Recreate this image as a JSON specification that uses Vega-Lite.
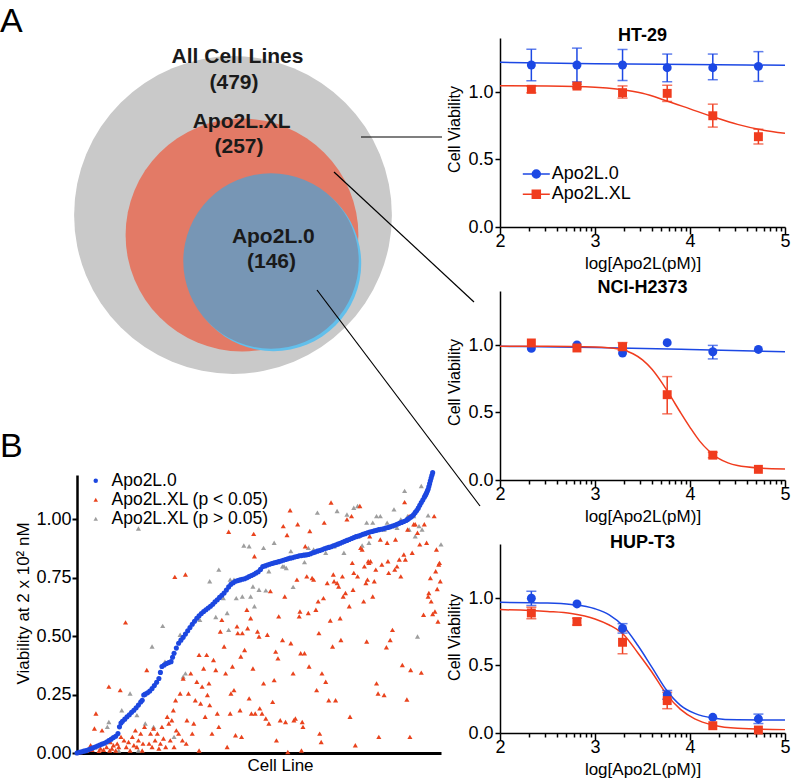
{
"$schema": "https://vega.github.io/schema/vega-lite/v6.json",
"autosize": {"type": "none"},
"padding": {"left": 77, "top": 38, "right": 716, "bottom": 742},
"background": "white",
"config": {
  "font": "Liberation Sans",
  "view": {"stroke": null},
  "axis": {"domainColor": "black", "tickColor": "black", "labelColor": "black", "titleColor": "black", "grid": false, "titleFontWeight": "normal", "labelFont": "Liberation Sans", "titleFont": "Liberation Sans"},
  "legend": {"labelFont": "Liberation Sans", "labelColor": "black", "labelLimit": 0},
  "title": {"font": "Liberation Sans", "color": "black"}
},
"datasets": {
  "venn": [
    {"c": "all", "n": 479, "x": 156, "y": 177},
    {"c": "xl", "n": 257, "x": 165, "y": 197},
    {"c": "o2", "n": 146, "x": 196.5, "y": 225.5},
    {"c": "o", "n": 146, "x": 194, "y": 223}
  ],
  "vlab": [
    {"t": "All Cell Lines", "x": 160.5, "y": 18.5},
    {"t": "(479)", "x": 157, "y": 45},
    {"t": "Apo2L.XL", "x": 164.7, "y": 83.5},
    {"t": "(257)", "x": 162, "y": 109},
    {"t": "Apo2L.0", "x": 196.3, "y": 199},
    {"t": "(146)", "x": 194.5, "y": 224}
  ],
  "conn": [
    {"x": 284, "y": 99, "x2": 365, "y2": 99},
    {"x": 257, "y": 134, "x2": 397, "y2": 264},
    {"x": 240, "y": 252, "x2": 403, "y2": 468}
  ],
  "dr": [
    {"k":"f","cl":"HT-29","s":"Apo2L.0","x":2,"y":1.22},
    {"k":"f","cl":"HT-29","s":"Apo2L.0","x":3,"y":1.21},
    {"k":"f","cl":"HT-29","s":"Apo2L.0","x":4,"y":1.203},
    {"k":"f","cl":"HT-29","s":"Apo2L.0","x":5,"y":1.198},
    {"k":"f","cl":"HT-29","s":"Apo2L.XL","x":2,"y":1.047},
    {"k":"f","cl":"HT-29","s":"Apo2L.XL","x":2.5,"y":1.045},
    {"k":"f","cl":"HT-29","s":"Apo2L.XL","x":3,"y":1.036},
    {"k":"f","cl":"HT-29","s":"Apo2L.XL","x":3.25,"y":1.02},
    {"k":"f","cl":"HT-29","s":"Apo2L.XL","x":3.5,"y":0.99},
    {"k":"f","cl":"HT-29","s":"Apo2L.XL","x":3.75,"y":0.935},
    {"k":"f","cl":"HT-29","s":"Apo2L.XL","x":4,"y":0.875},
    {"k":"f","cl":"HT-29","s":"Apo2L.XL","x":4.25,"y":0.815},
    {"k":"f","cl":"HT-29","s":"Apo2L.XL","x":4.5,"y":0.76},
    {"k":"f","cl":"HT-29","s":"Apo2L.XL","x":4.75,"y":0.72},
    {"k":"f","cl":"HT-29","s":"Apo2L.XL","x":5,"y":0.694},
    {"k":"p","cl":"HT-29","s":"Apo2L.0","x":2.33,"y":1.2,"lo":1.084,"hi":1.316},
    {"k":"p","cl":"HT-29","s":"Apo2L.0","x":2.81,"y":1.2,"lo":1.075,"hi":1.325},
    {"k":"p","cl":"HT-29","s":"Apo2L.0","x":3.29,"y":1.2,"lo":1.085,"hi":1.315},
    {"k":"p","cl":"HT-29","s":"Apo2L.0","x":3.76,"y":1.18,"lo":1.076,"hi":1.281},
    {"k":"p","cl":"HT-29","s":"Apo2L.0","x":4.24,"y":1.18,"lo":1.091,"hi":1.281},
    {"k":"p","cl":"HT-29","s":"Apo2L.0","x":4.72,"y":1.19,"lo":1.079,"hi":1.299},
    {"k":"p","cl":"HT-29","s":"Apo2L.XL","x":2.33,"y":1.02,"lo":0.995,"hi":1.045},
    {"k":"p","cl":"HT-29","s":"Apo2L.XL","x":2.81,"y":1.044,"lo":1.03,"hi":1.058},
    {"k":"p","cl":"HT-29","s":"Apo2L.XL","x":3.29,"y":0.995,"lo":0.955,"hi":1.045},
    {"k":"p","cl":"HT-29","s":"Apo2L.XL","x":3.76,"y":0.99,"lo":0.93,"hi":1.05},
    {"k":"p","cl":"HT-29","s":"Apo2L.XL","x":4.24,"y":0.824,"lo":0.74,"hi":0.91},
    {"k":"p","cl":"HT-29","s":"Apo2L.XL","x":4.72,"y":0.669,"lo":0.615,"hi":0.724},
    {"k":"f","cl":"NCI-H2373","s":"Apo2L.0","x":2,"y":0.99},
    {"k":"f","cl":"NCI-H2373","s":"Apo2L.0","x":3,"y":0.982},
    {"k":"f","cl":"NCI-H2373","s":"Apo2L.0","x":4,"y":0.967},
    {"k":"f","cl":"NCI-H2373","s":"Apo2L.0","x":5,"y":0.95},
    {"k":"f","cl":"NCI-H2373","s":"Apo2L.XL","x":2,"y":0.99},
    {"k":"f","cl":"NCI-H2373","s":"Apo2L.XL","x":2.5,"y":0.99},
    {"k":"f","cl":"NCI-H2373","s":"Apo2L.XL","x":3,"y":0.985},
    {"k":"f","cl":"NCI-H2373","s":"Apo2L.XL","x":3.25,"y":0.97},
    {"k":"f","cl":"NCI-H2373","s":"Apo2L.XL","x":3.4,"y":0.935},
    {"k":"f","cl":"NCI-H2373","s":"Apo2L.XL","x":3.5,"y":0.89},
    {"k":"f","cl":"NCI-H2373","s":"Apo2L.XL","x":3.6,"y":0.82},
    {"k":"f","cl":"NCI-H2373","s":"Apo2L.XL","x":3.7,"y":0.725},
    {"k":"f","cl":"NCI-H2373","s":"Apo2L.XL","x":3.8,"y":0.615},
    {"k":"f","cl":"NCI-H2373","s":"Apo2L.XL","x":3.9,"y":0.5},
    {"k":"f","cl":"NCI-H2373","s":"Apo2L.XL","x":4,"y":0.39},
    {"k":"f","cl":"NCI-H2373","s":"Apo2L.XL","x":4.1,"y":0.29},
    {"k":"f","cl":"NCI-H2373","s":"Apo2L.XL","x":4.2,"y":0.215},
    {"k":"f","cl":"NCI-H2373","s":"Apo2L.XL","x":4.3,"y":0.16},
    {"k":"f","cl":"NCI-H2373","s":"Apo2L.XL","x":4.4,"y":0.127},
    {"k":"f","cl":"NCI-H2373","s":"Apo2L.XL","x":4.5,"y":0.107},
    {"k":"f","cl":"NCI-H2373","s":"Apo2L.XL","x":4.75,"y":0.088},
    {"k":"f","cl":"NCI-H2373","s":"Apo2L.XL","x":5,"y":0.082},
    {"k":"p","cl":"NCI-H2373","s":"Apo2L.0","x":2.33,"y":0.975},
    {"k":"p","cl":"NCI-H2373","s":"Apo2L.0","x":2.81,"y":1.0},
    {"k":"p","cl":"NCI-H2373","s":"Apo2L.0","x":3.29,"y":0.94},
    {"k":"p","cl":"NCI-H2373","s":"Apo2L.0","x":3.76,"y":1.017},
    {"k":"p","cl":"NCI-H2373","s":"Apo2L.0","x":4.24,"y":0.95,"lo":0.897,"hi":0.997},
    {"k":"p","cl":"NCI-H2373","s":"Apo2L.0","x":4.72,"y":0.967},
    {"k":"p","cl":"NCI-H2373","s":"Apo2L.XL","x":2.33,"y":1.015},
    {"k":"p","cl":"NCI-H2373","s":"Apo2L.XL","x":2.81,"y":0.978},
    {"k":"p","cl":"NCI-H2373","s":"Apo2L.XL","x":3.29,"y":0.987,"lo":0.96,"hi":1.018},
    {"k":"p","cl":"NCI-H2373","s":"Apo2L.XL","x":3.76,"y":0.632,"lo":0.49,"hi":0.766},
    {"k":"p","cl":"NCI-H2373","s":"Apo2L.XL","x":4.24,"y":0.184,"lo":0.165,"hi":0.205},
    {"k":"p","cl":"NCI-H2373","s":"Apo2L.XL","x":4.72,"y":0.079},
    {"k":"f","cl":"HUP-T3","s":"Apo2L.0","x":2,"y":0.968},
    {"k":"f","cl":"HUP-T3","s":"Apo2L.0","x":2.5,"y":0.963},
    {"k":"f","cl":"HUP-T3","s":"Apo2L.0","x":2.75,"y":0.952},
    {"k":"f","cl":"HUP-T3","s":"Apo2L.0","x":3,"y":0.92},
    {"k":"f","cl":"HUP-T3","s":"Apo2L.0","x":3.15,"y":0.875},
    {"k":"f","cl":"HUP-T3","s":"Apo2L.0","x":3.3,"y":0.79},
    {"k":"f","cl":"HUP-T3","s":"Apo2L.0","x":3.45,"y":0.65},
    {"k":"f","cl":"HUP-T3","s":"Apo2L.0","x":3.6,"y":0.486},
    {"k":"f","cl":"HUP-T3","s":"Apo2L.0","x":3.75,"y":0.32},
    {"k":"f","cl":"HUP-T3","s":"Apo2L.0","x":3.9,"y":0.205},
    {"k":"f","cl":"HUP-T3","s":"Apo2L.0","x":4.05,"y":0.145},
    {"k":"f","cl":"HUP-T3","s":"Apo2L.0","x":4.25,"y":0.11},
    {"k":"f","cl":"HUP-T3","s":"Apo2L.0","x":4.5,"y":0.098},
    {"k":"f","cl":"HUP-T3","s":"Apo2L.0","x":5,"y":0.096},
    {"k":"f","cl":"HUP-T3","s":"Apo2L.XL","x":2,"y":0.914},
    {"k":"f","cl":"HUP-T3","s":"Apo2L.XL","x":2.5,"y":0.9},
    {"k":"f","cl":"HUP-T3","s":"Apo2L.XL","x":2.75,"y":0.885},
    {"k":"f","cl":"HUP-T3","s":"Apo2L.XL","x":3,"y":0.845},
    {"k":"f","cl":"HUP-T3","s":"Apo2L.XL","x":3.15,"y":0.8},
    {"k":"f","cl":"HUP-T3","s":"Apo2L.XL","x":3.3,"y":0.73},
    {"k":"f","cl":"HUP-T3","s":"Apo2L.XL","x":3.45,"y":0.595},
    {"k":"f","cl":"HUP-T3","s":"Apo2L.XL","x":3.6,"y":0.45},
    {"k":"f","cl":"HUP-T3","s":"Apo2L.XL","x":3.75,"y":0.29},
    {"k":"f","cl":"HUP-T3","s":"Apo2L.XL","x":3.9,"y":0.175},
    {"k":"f","cl":"HUP-T3","s":"Apo2L.XL","x":4.05,"y":0.105},
    {"k":"f","cl":"HUP-T3","s":"Apo2L.XL","x":4.25,"y":0.058},
    {"k":"f","cl":"HUP-T3","s":"Apo2L.XL","x":4.5,"y":0.035},
    {"k":"f","cl":"HUP-T3","s":"Apo2L.XL","x":5,"y":0.025},
    {"k":"p","cl":"HUP-T3","s":"Apo2L.0","x":2.33,"y":0.998,"lo":0.945,"hi":1.05},
    {"k":"p","cl":"HUP-T3","s":"Apo2L.0","x":2.81,"y":0.956},
    {"k":"p","cl":"HUP-T3","s":"Apo2L.0","x":3.29,"y":0.775,"lo":0.74,"hi":0.81},
    {"k":"p","cl":"HUP-T3","s":"Apo2L.0","x":3.76,"y":0.284,"lo":0.25,"hi":0.315},
    {"k":"p","cl":"HUP-T3","s":"Apo2L.0","x":4.24,"y":0.116},
    {"k":"p","cl":"HUP-T3","s":"Apo2L.0","x":4.72,"y":0.104,"lo":0.07,"hi":0.14},
    {"k":"p","cl":"HUP-T3","s":"Apo2L.XL","x":2.33,"y":0.889,"lo":0.847,"hi":0.931},
    {"k":"p","cl":"HUP-T3","s":"Apo2L.XL","x":2.81,"y":0.825,"lo":0.8,"hi":0.85},
    {"k":"p","cl":"HUP-T3","s":"Apo2L.XL","x":3.29,"y":0.672,"lo":0.587,"hi":0.757},
    {"k":"p","cl":"HUP-T3","s":"Apo2L.XL","x":3.76,"y":0.24,"lo":0.18,"hi":0.3},
    {"k":"p","cl":"HUP-T3","s":"Apo2L.XL","x":4.24,"y":0.054},
    {"k":"p","cl":"HUP-T3","s":"Apo2L.XL","x":4.72,"y":0.022}
  ],
  "sc": [
{"s":"g","r":17,"v":0.026},{"s":"g","r":40,"v":0.112},{"s":"g","r":42,"v":0.133},{"s":"g","r":44,"v":0.062},{"s":"g","r":55,"v":0.011},{"s":"g","r":59,"v":0.183},{"s":"g","r":70,"v":0.255},{"s":"g","r":79,"v":0.162},{"s":"g","r":81,"v":0.011},{"s":"g","r":81,"v":0.961},{"s":"g","r":90,"v":0.126},{"s":"g","r":99,"v":0.456},{"s":"g","r":101,"v":0.112},{"s":"g","r":113,"v":0.544},{"s":"g","r":116,"v":0.391},{"s":"g","r":128,"v":0.069},{"s":"g","r":136,"v":0.506},{"s":"g","r":140,"v":0.327},{"s":"g","r":143,"v":0.341},{"s":"g","r":162,"v":0.57},{"s":"g","r":175,"v":0.735},{"s":"g","r":183,"v":0.582},{"s":"g","r":187,"v":0.785},{"s":"g","r":193,"v":0.663},{"s":"g","r":198,"v":0.599},{"s":"g","r":200,"v":0.527},{"s":"g","r":202,"v":0.742},{"s":"g","r":207,"v":0.742},{"s":"g","r":210,"v":0.663},{"s":"g","r":218,"v":0.67},{"s":"g","r":220,"v":0.888},{"s":"g","r":227,"v":0.885},{"s":"g","r":229,"v":0.67},{"s":"g","r":232,"v":0.713},{"s":"g","r":234,"v":0.628},{"s":"g","r":240,"v":0.699},{"s":"g","r":246,"v":0.878},{"s":"g","r":249,"v":0.696},{"s":"g","r":253,"v":0.778},{"s":"g","r":260,"v":0.9},{"s":"g","r":271,"v":0.799},{"s":"g","r":273,"v":0.799},{"s":"g","r":276,"v":0.792},{"s":"g","r":282,"v":0.864},{"s":"g","r":285,"v":0.711},{"s":"g","r":300,"v":0.817},{"s":"g","r":305,"v":0.878},{"s":"g","r":310,"v":0.857},{"s":"g","r":312,"v":0.871},{"s":"g","r":317,"v":1.029},{"s":"g","r":328,"v":0.857},{"s":"g","r":339,"v":0.885},{"s":"g","r":343,"v":1.036},{"s":"g","r":352,"v":0.857},{"s":"g","r":356,"v":1.021},{"s":"g","r":365,"v":1.05},{"s":"g","r":370,"v":1.057},{"s":"g","r":371,"v":0.928},{"s":"g","r":376,"v":0.888},{"s":"g","r":382,"v":0.986},{"s":"g","r":385,"v":0.9},{"s":"g","r":390,"v":0.986},{"s":"g","r":395,"v":1.014},{"s":"g","r":400,"v":1.014},{"s":"g","r":405,"v":0.957},{"s":"g","r":409,"v":0.986},{"s":"g","r":416,"v":0.971},{"s":"g","r":418,"v":1.043},{"s":"g","r":422,"v":0.964},{"s":"g","r":427,"v":1.0},{"s":"g","r":432,"v":1.122},{"s":"g","r":436,"v":1.014},{"s":"g","r":438,"v":0.957},{"s":"g","r":444,"v":1.014},{"s":"g","r":446,"v":0.928},{"s":"g","r":449,"v":0.499},{"s":"g","r":451,"v":0.971},{"s":"g","r":454,"v":1.143},{"s":"g","r":455,"v":0.957},{"s":"g","r":463,"v":1.017},{"s":"g","r":480,"v":0.893},
{"s":"r","r":4,"v":0.004},{"s":"r","r":9,"v":0.009},{"s":"r","r":13,"v":0.011},{"s":"r","r":18,"v":0.033},{"s":"r","r":20,"v":0.014},{"s":"r","r":24,"v":0.026},{"s":"r","r":23,"v":0.105},{"s":"r","r":25,"v":0.169},{"s":"r","r":29,"v":0.009},{"s":"r","r":31,"v":0.019},{"s":"r","r":33,"v":0.097},{"s":"r","r":35,"v":0.014},{"s":"r","r":39,"v":0.026},{"s":"r","r":42,"v":0.284},{"s":"r","r":43,"v":0.011},{"s":"r","r":44,"v":0.047},
{"s":"r","r":46,"v":0.019},{"s":"r","r":48,"v":0.033},{"s":"r","r":51,"v":0.011},{"s":"r","r":53,"v":0.04},{"s":"r","r":55,"v":0.026},{"s":"r","r":57,"v":0.269},{"s":"r","r":58,"v":0.069},{"s":"r","r":62,"v":0.054},{"s":"r","r":64,"v":0.559},{"s":"r","r":65,"v":0.026},{"s":"r","r":68,"v":0.047},{"s":"r","r":70,"v":0.011},{"s":"r","r":73,"v":0.069},{"s":"r","r":75,"v":0.033},{"s":"r","r":77,"v":0.097},{"s":"r","r":79,"v":0.026},{"s":"r","r":81,"v":0.054},{"s":"r","r":84,"v":0.083},{"s":"r","r":86,"v":0.011},{"s":"r","r":87,"v":0.04},
{"s":"r","r":89,"v":0.112},{"s":"r","r":92,"v":0.355},{"s":"r","r":95,"v":0.04},{"s":"r","r":97,"v":0.083},{"s":"r","r":99,"v":0.026},{"s":"r","r":101,"v":0.105},{"s":"r","r":103,"v":0.054},{"s":"r","r":106,"v":0.083},{"s":"r","r":108,"v":0.019},{"s":"r","r":110,"v":0.04},{"s":"r","r":112,"v":0.112},{"s":"r","r":114,"v":0.062},{"s":"r","r":117,"v":0.026},{"s":"r","r":119,"v":0.155},{"s":"r","r":121,"v":0.126},{"s":"r","r":123,"v":0.054},{"s":"r","r":125,"v":0.14},{"s":"r","r":127,"v":0.183},{"s":"r","r":128,"v":0.026},{"s":"r","r":129,"v":0.754},{"s":"r","r":130,"v":0.226},{"s":"r","r":131,"v":0.097},
{"s":"r","r":134,"v":0.083},{"s":"r","r":136,"v":0.255},{"s":"r","r":139,"v":0.054},{"s":"r","r":140,"v":0.319},{"s":"r","r":143,"v":0.764},{"s":"r","r":144,"v":0.04},{"s":"r","r":145,"v":0.14},{"s":"r","r":147,"v":0.255},{"s":"r","r":150,"v":0.341},{"s":"r","r":152,"v":0.083},{"s":"r","r":154,"v":0.126},{"s":"r","r":156,"v":0.226},{"s":"r","r":158,"v":0.305},{"s":"r","r":161,"v":0.42},{"s":"r","r":161,"v":0.011},{"s":"r","r":163,"v":0.212},{"s":"r","r":165,"v":0.284},{"s":"r","r":167,"v":0.362},{"s":"r","r":169,"v":0.155},{"s":"r","r":171,"v":0.42},{"s":"r","r":172,"v":0.248},{"s":"r","r":174,"v":0.298},{"s":"r","r":175,"v":0.205},
{"s":"r","r":178,"v":0.083},{"s":"r","r":180,"v":0.398},{"s":"r","r":183,"v":0.355},{"s":"r","r":185,"v":0.169},{"s":"r","r":187,"v":0.112},{"s":"r","r":189,"v":0.52},{"s":"r","r":191,"v":0.57},{"s":"r","r":194,"v":0.456},{"s":"r","r":196,"v":0.341},{"s":"r","r":198,"v":0.026},{"s":"r","r":200,"v":0.947},{"s":"r","r":202,"v":0.169},{"s":"r","r":203,"v":0.255},{"s":"r","r":205,"v":0.37},{"s":"r","r":207,"v":0.269},{"s":"r","r":209,"v":0.076},{"s":"r","r":211,"v":0.542},{"s":"r","r":212,"v":0.513},{"s":"r","r":215,"v":0.183},{"s":"r","r":216,"v":0.413},{"s":"r","r":217,"v":0.069},{"s":"r","r":218,"v":0.513},
{"s":"r","r":221,"v":0.441},{"s":"r","r":224,"v":0.613},{"s":"r","r":225,"v":0.534},{"s":"r","r":227,"v":0.234},{"s":"r","r":229,"v":0.577},{"s":"r","r":230,"v":0.169},{"s":"r","r":232,"v":0.362},{"s":"r","r":233,"v":0.938},{"s":"r","r":234,"v":0.842},{"s":"r","r":235,"v":0.169},{"s":"r","r":238,"v":0.52},{"s":"r","r":240,"v":0.499},{"s":"r","r":241,"v":0.191},{"s":"r","r":244,"v":0.169},{"s":"r","r":246,"v":0.298},{"s":"r","r":249,"v":0.148},{"s":"r","r":251,"v":0.506},{"s":"r","r":253,"v":0.126},{"s":"r","r":255,"v":0.693},{"s":"r","r":258,"v":0.219},{"s":"r","r":260,"v":0.312},{"s":"r","r":262,"v":0.434},{"s":"r","r":263,"v":0.054},
{"s":"r","r":265,"v":0.405},{"s":"r","r":266,"v":0.585},{"s":"r","r":268,"v":0.14},{"s":"r","r":271,"v":0.484},{"s":"r","r":272,"v":0.971},{"s":"r","r":274,"v":0.67},{"s":"r","r":275,"v":0.133},{"s":"r","r":277,"v":0.933},{"s":"r","r":278,"v":0.004},{"s":"r","r":281,"v":1.039},{"s":"r","r":282,"v":0.47},{"s":"r","r":285,"v":0.341},{"s":"r","r":286,"v":0.14},{"s":"r","r":288,"v":0.148},{"s":"r","r":290,"v":0.742},{"s":"r","r":291,"v":0.979},{"s":"r","r":293,"v":0.585},{"s":"r","r":294,"v":0.606},{"s":"r","r":295,"v":0.427},{"s":"r","r":296,"v":0.011},{"s":"r","r":297,"v":0.133},{"s":"r","r":298,"v":0.112},{"s":"r","r":300,"v":0.427},{"s":"r","r":301,"v":0.885},{"s":"r","r":303,"v":0.756},{"s":"r","r":305,"v":0.599},{"s":"r","r":306,"v":0.37},{"s":"r","r":307,"v":0.95},
{"s":"r","r":310,"v":0.749},{"s":"r","r":312,"v":0.742},{"s":"r","r":315,"v":0.613},{"s":"r","r":316,"v":0.269},{"s":"r","r":318,"v":0.649},{"s":"r","r":319,"v":0.513},{"s":"r","r":320,"v":0.083},{"s":"r","r":322,"v":0.047},{"s":"r","r":323,"v":0.341},{"s":"r","r":325,"v":0.663},{"s":"r","r":326,"v":0.986},{"s":"r","r":328,"v":0.305},{"s":"r","r":330,"v":0.728},{"s":"r","r":332,"v":0.226},{"s":"r","r":334,"v":0.567},{"s":"r","r":335,"v":1.072},{"s":"r","r":337,"v":0.456},{"s":"r","r":338,"v":0.764},{"s":"r","r":339,"v":0.735},{"s":"r","r":341,"v":0.226},{"s":"r","r":343,"v":0.728},{"s":"r","r":345,"v":0.713},{"s":"r","r":347,"v":0.577},{"s":"r","r":348,"v":0.484},{"s":"r","r":350,"v":0.756},{"s":"r","r":351,"v":0.67},
{"s":"r","r":354,"v":0.685},{"s":"r","r":356,"v":1.0},{"s":"r","r":359,"v":0.628},{"s":"r","r":360,"v":0.155},{"s":"r","r":362,"v":1.014},{"s":"r","r":363,"v":0.814},{"s":"r","r":364,"v":0.699},{"s":"r","r":365,"v":0.771},{"s":"r","r":367,"v":0.033},{"s":"r","r":370,"v":0.756},{"s":"r","r":373,"v":1.057},{"s":"r","r":374,"v":0.878},{"s":"r","r":376,"v":0.871},{"s":"r","r":378,"v":0.649},{"s":"r","r":379,"v":0.799},{"s":"r","r":381,"v":0.728},{"s":"r","r":382,"v":0.477},{"s":"r","r":383,"v":0.742},{"s":"r","r":384,"v":0.821},{"s":"r","r":385,"v":0.814},{"s":"r","r":386,"v":0.928},{"s":"r","r":387,"v":0.821},{"s":"r","r":390,"v":0.67},{"s":"r","r":392,"v":0.735},{"s":"r","r":394,"v":0.785},{"s":"r","r":395,"v":0.298},
{"s":"r","r":397,"v":0.255},{"s":"r","r":398,"v":0.069},{"s":"r","r":400,"v":0.914},{"s":"r","r":402,"v":0.807},{"s":"r","r":405,"v":0.248},{"s":"r","r":408,"v":0.453},{"s":"r","r":409,"v":0.9},{"s":"r","r":410,"v":0.821},{"s":"r","r":411,"v":0.771},{"s":"r","r":413,"v":0.484},{"s":"r","r":416,"v":0.527},{"s":"r","r":419,"v":0.785},{"s":"r","r":420,"v":0.914},{"s":"r","r":422,"v":0.799},{"s":"r","r":425,"v":0.828},{"s":"r","r":427,"v":0.756},{"s":"r","r":429,"v":0.377},{"s":"r","r":431,"v":0.85},{"s":"r","r":432,"v":1.074},{"s":"r","r":433,"v":0.828},{"s":"r","r":435,"v":0.229},{"s":"r","r":436,"v":0.957},{"s":"r","r":438,"v":1.014},{"s":"r","r":439,"v":0.069},{"s":"r","r":440,"v":0.355},
{"s":"r","r":442,"v":0.857},{"s":"r","r":444,"v":0.979},{"s":"r","r":446,"v":0.979},{"s":"r","r":449,"v":0.943},{"s":"r","r":452,"v":0.893},{"s":"r","r":454,"v":0.344},{"s":"r","r":457,"v":0.592},{"s":"r","r":458,"v":0.979},{"s":"r","r":461,"v":0.9},{"s":"r","r":463,"v":0.67},{"s":"r","r":464,"v":0.685},{"s":"r","r":466,"v":0.749},{"s":"r","r":467,"v":0.649},{"s":"r","r":469,"v":0.595},{"s":"r","r":471,"v":1.014},{"s":"r","r":472,"v":0.606},{"s":"r","r":473,"v":0.778},{"s":"r","r":474,"v":0.871},{"s":"r","r":475,"v":0.702},{"s":"r","r":476,"v":0.563},{"s":"r","r":477,"v":0.807},{"s":"r","r":478,"v":0.814},{"s":"r","r":479,"v":0.735},
{"s":"b","r":0,"v":0.0},{"s":"b","r":3,"v":0.003},{"s":"b","r":6,"v":0.005},{"s":"b","r":9,"v":0.008},{"s":"b","r":12,"v":0.01},{"s":"b","r":15,"v":0.014},{"s":"b","r":18,"v":0.018},{"s":"b","r":21,"v":0.022},{"s":"b","r":24,"v":0.026},{"s":"b","r":27,"v":0.03},{"s":"b","r":30,"v":0.034},{"s":"b","r":33,"v":0.038},{"s":"b","r":36,"v":0.042},{"s":"b","r":39,"v":0.047},{"s":"b","r":42,"v":0.053},{"s":"b","r":45,"v":0.059},{"s":"b","r":48,"v":0.066},{"s":"b","r":51,"v":0.072},{"s":"b","r":54,"v":0.083},{"s":"b","r":56,"v":0.112},{"s":"b","r":58,"v":0.128},{"s":"b","r":60,"v":0.136},{"s":"b","r":63,"v":0.145},{"s":"b","r":66,"v":0.155},{"s":"b","r":69,"v":0.164},{"s":"b","r":72,"v":0.174},{"s":"b","r":75,"v":0.183},{"s":"b","r":78,"v":0.194},{"s":"b","r":81,"v":0.205},{"s":"b","r":84,"v":0.218},{"s":"b","r":86,"v":0.226},{"s":"b","r":88,"v":0.248},{"s":"b","r":90,"v":0.252},{"s":"b","r":93,"v":0.258},{"s":"b","r":96,"v":0.265},{"s":"b","r":99,"v":0.276},{"s":"b","r":102,"v":0.289},{"s":"b","r":105,"v":0.303},{"s":"b","r":108,"v":0.319},{"s":"b","r":110,"v":0.345},{"s":"b","r":112,"v":0.37},{"s":"b","r":115,"v":0.377},{"s":"b","r":118,"v":0.383},{"s":"b","r":121,"v":0.387},{"s":"b","r":124,"v":0.391},{"s":"b","r":126,"v":0.41},{"s":"b","r":128,"v":0.427},{"s":"b","r":131,"v":0.449},{"s":"b","r":134,"v":0.47},{"s":"b","r":137,"v":0.483},{"s":"b","r":140,"v":0.495},{"s":"b","r":143,"v":0.509},{"s":"b","r":146,"v":0.523},{"s":"b","r":149,"v":0.537},{"s":"b","r":152,"v":0.551},{"s":"b","r":155,"v":0.564},{"s":"b","r":158,"v":0.577},{"s":"b","r":161,"v":0.587},{"s":"b","r":164,"v":0.597},{"s":"b","r":167,"v":0.606},{"s":"b","r":170,"v":0.613},{"s":"b","r":173,"v":0.621},{"s":"b","r":176,"v":0.628},{"s":"b","r":179,"v":0.637},{"s":"b","r":182,"v":0.647},{"s":"b","r":185,"v":0.656},{"s":"b","r":188,"v":0.666},{"s":"b","r":191,"v":0.675},{"s":"b","r":194,"v":0.685},{"s":"b","r":197,"v":0.698},{"s":"b","r":200,"v":0.711},{"s":"b","r":203,"v":0.722},{"s":"b","r":206,"v":0.729},{"s":"b","r":209,"v":0.735},{"s":"b","r":212,"v":0.738},{"s":"b","r":215,"v":0.741},{"s":"b","r":218,"v":0.744},{"s":"b","r":221,"v":0.746},{"s":"b","r":224,"v":0.75},{"s":"b","r":227,"v":0.755},{"s":"b","r":230,"v":0.76},{"s":"b","r":233,"v":0.764},{"s":"b","r":236,"v":0.77},{"s":"b","r":239,"v":0.776},{"s":"b","r":242,"v":0.786},{"s":"b","r":245,"v":0.798},{"s":"b","r":248,"v":0.801},{"s":"b","r":251,"v":0.805},{"s":"b","r":254,"v":0.808},{"s":"b","r":257,"v":0.811},{"s":"b","r":260,"v":0.814},{"s":"b","r":263,"v":0.816},{"s":"b","r":266,"v":0.819},{"s":"b","r":269,"v":0.822},{"s":"b","r":272,"v":0.825},{"s":"b","r":275,"v":0.828},{"s":"b","r":278,"v":0.831},{"s":"b","r":281,"v":0.834},{"s":"b","r":284,"v":0.836},{"s":"b","r":287,"v":0.839},{"s":"b","r":290,"v":0.841},{"s":"b","r":293,"v":0.844},{"s":"b","r":296,"v":0.845},{"s":"b","r":299,"v":0.847},{"s":"b","r":302,"v":0.848},{"s":"b","r":305,"v":0.85},{"s":"b","r":308,"v":0.853},{"s":"b","r":311,"v":0.857},{"s":"b","r":314,"v":0.86},{"s":"b","r":317,"v":0.864},{"s":"b","r":320,"v":0.867},{"s":"b","r":323,"v":0.87},{"s":"b","r":326,"v":0.874},{"s":"b","r":329,"v":0.877},{"s":"b","r":332,"v":0.88},{"s":"b","r":335,"v":0.883},{"s":"b","r":338,"v":0.887},{"s":"b","r":341,"v":0.89},{"s":"b","r":344,"v":0.894},{"s":"b","r":347,"v":0.898},{"s":"b","r":350,"v":0.902},{"s":"b","r":353,"v":0.906},{"s":"b","r":356,"v":0.91},{"s":"b","r":359,"v":0.914},{"s":"b","r":362,"v":0.918},{"s":"b","r":365,"v":0.922},{"s":"b","r":368,"v":0.926},{"s":"b","r":371,"v":0.929},{"s":"b","r":374,"v":0.932},{"s":"b","r":377,"v":0.936},{"s":"b","r":380,"v":0.939},{"s":"b","r":383,"v":0.943},{"s":"b","r":386,"v":0.946},{"s":"b","r":389,"v":0.948},{"s":"b","r":392,"v":0.951},{"s":"b","r":395,"v":0.953},{"s":"b","r":398,"v":0.956},{"s":"b","r":401,"v":0.958},{"s":"b","r":404,"v":0.96},{"s":"b","r":407,"v":0.963},{"s":"b","r":410,"v":0.965},{"s":"b","r":413,"v":0.968},{"s":"b","r":416,"v":0.972},{"s":"b","r":419,"v":0.975},{"s":"b","r":422,"v":0.979},{"s":"b","r":425,"v":0.983},{"s":"b","r":428,"v":0.987},{"s":"b","r":431,"v":0.991},{"s":"b","r":434,"v":0.995},{"s":"b","r":436,"v":1.0},{"s":"b","r":438,"v":1.005},{"s":"b","r":440,"v":1.009},{"s":"b","r":442,"v":1.014},{"s":"b","r":444,"v":1.021},{"s":"b","r":446,"v":1.03},{"s":"b","r":448,"v":1.038},{"s":"b","r":450,"v":1.048},{"s":"b","r":452,"v":1.06},{"s":"b","r":454,"v":1.072},{"s":"b","r":456,"v":1.083},{"s":"b","r":458,"v":1.095},{"s":"b","r":459,"v":1.101},{"s":"b","r":460,"v":1.107},{"s":"b","r":461,"v":1.114},{"s":"b","r":462,"v":1.121},{"s":"b","r":463,"v":1.129},{"s":"b","r":464,"v":1.141},{"s":"b","r":465,"v":1.153},{"s":"b","r":466,"v":1.165},{"s":"b","r":467,"v":1.177},{"s":"b","r":468,"v":1.189},{"s":"b","r":469,"v":1.2}
  ]
},
"spacing": 423,
"bounds": "flush",
"resolve": {"scale": {"x": "independent", "y": "independent", "color": "independent", "shape": "independent", "size": "independent"}, "axis": {"x": "independent", "y": "independent"}, "legend": {"color": "independent", "shape": "independent", "size": "independent"}},
"hconcat": [
 {
  "spacing": 10,
  "bounds": "flush",
  "resolve": {"scale": {"x": "independent", "y": "independent", "color": "independent", "shape": "independent", "size": "independent"}, "axis": {"x": "independent", "y": "independent"}, "legend": {"color": "independent", "shape": "independent", "size": "independent"}},
  "vconcat": [
   {
    "width": 364, "height": 427,
    "title": {"text": "A", "anchor": "start", "frame": "group", "dx": -77, "offset": -28, "baseline": "alphabetic", "fontSize": 34, "fontWeight": "normal", "color": "black"},
    "layer": [
     {"data": {"name": "venn"},
      "mark": {"type": "point", "filled": true, "opacity": 1, "strokeWidth": 0},
      "encoding": {
        "x": {"field": "x", "type": "quantitative", "scale": {"domain": [0, 364], "nice": false, "zero": false}, "axis": null},
        "y": {"field": "y", "type": "quantitative", "scale": {"domain": [0, 427], "nice": false, "zero": false, "reverse": true}, "axis": null},
        "size": {"field": "n", "type": "quantitative", "scale": {"domain": [0, 479], "range": [0, 101000]}, "legend": null},
        "color": {"field": "c", "type": "nominal", "scale": {"domain": ["all", "xl", "o2", "o"], "range": ["#c9c9c9", "#e37a66", "#62bfeb", "#7796b5"]}, "legend": null}
      }},
     {"data": {"name": "conn"},
      "mark": {"type": "rule", "color": "black", "strokeWidth": 1.2},
      "encoding": {
        "x": {"field": "x", "type": "quantitative"},
        "y": {"field": "y", "type": "quantitative"},
        "x2": {"field": "x2"},
        "y2": {"field": "y2"}
      }},
     {"data": {"name": "vlab"},
      "mark": {"type": "text", "fontSize": 21, "fontWeight": "bold", "color": "#1a1a1a", "baseline": "middle", "align": "center"},
      "encoding": {
        "x": {"field": "x", "type": "quantitative"},
        "y": {"field": "y", "type": "quantitative"},
        "text": {"field": "t"}
      }}
    ]
   },
   {
    "width": 364, "height": 278,
    "title": {"text": "B", "anchor": "start", "frame": "group", "dx": -77, "offset": -21, "baseline": "alphabetic", "fontSize": 34, "fontWeight": "normal", "color": "black"},
    "data": {"name": "sc"},
    "mark": {"type": "point", "filled": true, "opacity": 1, "size": 26, "strokeWidth": 0},
    "encoding": {
      "x": {"field": "r", "type": "quantitative", "scale": {"domain": [0, 480], "nice": false, "zero": false},
            "axis": {"title": "Cell Line", "labels": false, "ticks": false, "domainWidth": 3, "titleFontSize": 17, "titlePadding": 4, "titleX": 203}},
      "y": {"field": "v", "type": "quantitative", "scale": {"domain": [0, 1.19], "nice": false},
            "axis": {"title": "Viability at 2 x 10² nM", "values": [0, 0.25, 0.5, 0.75, 1], "format": ".2f", "tickSize": 5, "tickWidth": 2, "domainWidth": 2.5, "labelFontSize": 18, "labelPadding": 1, "titleFontSize": 17, "titlePadding": 3, "titleY": 128}},
      "color": {"field": "s", "type": "nominal", "scale": {"domain": ["b", "r", "g"], "range": ["#1c47e0", "#e9431d", "#9e9e9e"]},
            "legend": {"orient": "none", "legendX": 10, "legendY": -3, "title": null, "labelFontSize": 17.5, "symbolSize": 20, "labelOffset": 7, "rowPadding": 0, "padding": 0, "labelLimit": 0,
                       "labelExpr": "datum.label == 'b' ? 'Apo2L.0' : datum.label == 'r' ? 'Apo2L.XL (p < 0.05)' : 'Apo2L.XL (p > 0.05)'"}},
      "shape": {"field": "s", "type": "nominal", "scale": {"domain": ["b", "r", "g"], "range": ["circle", "triangle-up", "triangle-up"]}}
    }
   }
  ]
 },
 {
  "spacing": 64,
  "bounds": "flush",
  "resolve": {"scale": {"x": "independent", "y": "independent", "color": "independent", "shape": "independent"}, "axis": {"x": "independent", "y": "independent"}, "legend": {"color": "independent", "shape": "independent"}},
  "vconcat": [
   {
    "width": 285, "height": 189,
    "title": {"text": "HT-29", "fontSize": 18, "fontWeight": "bold", "offset": -21, "baseline": "alphabetic", "anchor": "middle", "color": "black"},
    "data": {"name": "dr"},
    "transform": [{"filter": "datum.cl === 'HT-29'"}],
    "resolve": {"scale": {"color": "independent"}, "legend": {"color": "independent"}},
    "encoding": {
      "x": {"field": "x", "type": "quantitative", "scale": {"domain": [2, 5], "nice": false, "zero": false},
            "axis": {"title": "log[Apo2L(pM)]", "values": [2,2.301,2.477,2.602,2.699,2.778,2.845,2.903,2.954,3,3.301,3.477,3.602,3.699,3.778,3.845,3.903,3.954,4,4.301,4.477,4.602,4.699,4.778,4.845,4.903,4.954,5],
                     "labelExpr": "datum.value % 1 === 0 ? format(datum.value, 'd') : ''", "labelOverlap": false, "labelFlush": false, "labelFontSize": 18, "labelPadding": -2,
                     "tickSize": {"condition": {"test": "datum.value % 1 === 0", "value": 7}, "value": 4}, "tickWidth": 1.5, "domainWidth": 1.5, "titleFontSize": 17, "titlePadding": 5}}
    },
    "layer": [
      {"transform": [{"filter": "datum.k === 'f'"}], "mark": {"type": "line", "strokeWidth": 1.5, "interpolate": "monotone"},
       "encoding": {"y": {"field": "y", "type": "quantitative", "scale": {"domain": [0, 1.4], "nice": false},
            "axis": {"title": "Cell Viability", "values": [0, 0.5, 1], "format": ".1f", "labelFontSize": 18, "labelPadding": 2, "tickSize": 5, "tickWidth": 1.5, "domainWidth": 1.5, "titleFontSize": 16, "titlePadding": 5, "titleY": 91}},
            "color": {"field": "s", "type": "nominal", "scale": {"domain": ["Apo2L.0", "Apo2L.XL"], "range": ["#1c48e4", "#f03c1e"]}, "legend": null}}},
      {"transform": [{"filter": "datum.k === 'p'"}], "mark": {"type": "rule", "strokeWidth": 1.5},
       "encoding": {"y": {"field": "lo", "type": "quantitative", "title": "Cell Viability"}, "y2": {"field": "hi"},
            "color": {"field": "s", "type": "nominal", "scale": {"domain": ["Apo2L.0", "Apo2L.XL"], "range": ["#1c48e4", "#f03c1e"]}, "legend": null}}},
      {"transform": [{"filter": "datum.k === 'p'"}], "mark": {"type": "tick", "orient": "horizontal", "size": 10, "thickness": 1.5},
       "encoding": {"y": {"field": "lo", "type": "quantitative", "title": "Cell Viability"},
            "color": {"field": "s", "type": "nominal", "scale": {"domain": ["Apo2L.0", "Apo2L.XL"], "range": ["#1c48e4", "#f03c1e"]}, "legend": null}}},
      {"transform": [{"filter": "datum.k === 'p'"}], "mark": {"type": "tick", "orient": "horizontal", "size": 10, "thickness": 1.5},
       "encoding": {"y": {"field": "hi", "type": "quantitative", "title": "Cell Viability"},
            "color": {"field": "s", "type": "nominal", "scale": {"domain": ["Apo2L.0", "Apo2L.XL"], "range": ["#1c48e4", "#f03c1e"]}, "legend": null}}},
      {"transform": [{"filter": "datum.k === 'p'"}], "mark": {"type": "point", "filled": true, "opacity": 1, "size": 80},
       "encoding": {"y": {"field": "y", "type": "quantitative", "title": "Cell Viability"},
            "color": {"field": "s", "type": "nominal", "scale": {"domain": ["Apo2L.0", "Apo2L.XL"], "range": ["#1c48e4", "#f03c1e"]}, "legend": null},
            "shape": {"field": "s", "type": "nominal", "scale": {"domain": ["Apo2L.0", "Apo2L.XL"], "range": ["circle", "square"]}, "legend": null}}},
      {"transform": [{"filter": "datum.k === 'p' && datum.s === 'Apo2L.0'"}], "mark": {"type": "point", "filled": true, "opacity": 0},
       "encoding": {"y": {"field": "y", "type": "quantitative", "title": "Cell Viability"},
            "color": {"field": "s", "type": "nominal", "scale": {"domain": ["Apo2L.0"], "range": ["#1c48e4"]},
                      "legend": {"orient": "none", "legendX": 27.3, "legendY": 127, "title": null, "labelFontSize": 18, "symbolSize": 144, "labelOffset": 6.4, "padding": 0, "symbolOpacity": 1,
                                 "symbolType": "M-2.25,0H2.25M-0.667,0A0.667,0.667,0,1,1,0.667,0A0.667,0.667,0,1,1,-0.667,0Z", "symbolStrokeColor": "#1c48e4", "symbolStrokeWidth": 1.5}}}},
      {"transform": [{"filter": "datum.k === 'p' && datum.s === 'Apo2L.XL'"}], "mark": {"type": "point", "filled": true, "opacity": 0},
       "encoding": {"y": {"field": "y", "type": "quantitative", "title": "Cell Viability"},
            "color": {"field": "s", "type": "nominal", "scale": {"domain": ["Apo2L.XL"], "range": ["#f03c1e"]},
                      "legend": {"orient": "none", "legendX": 27.3, "legendY": 147.3, "title": null, "labelFontSize": 18, "symbolSize": 144, "labelOffset": 6.4, "padding": 0, "symbolOpacity": 1,
                                 "symbolType": "M-2.25,0H2.25M-0.667,-0.667H0.667V0.667H-0.667Z", "symbolStrokeColor": "#f03c1e", "symbolStrokeWidth": 1.5}}}}
    ]
   },
   {
    "width": 285, "height": 189,
    "title": {"text": "NCI-H2373", "fontSize": 18, "fontWeight": "bold", "offset": -20, "baseline": "alphabetic", "anchor": "middle", "color": "black"},
    "data": {"name": "dr"},
    "transform": [{"filter": "datum.cl === 'NCI-H2373'"}],
    "encoding": {
      "x": {"field": "x", "type": "quantitative", "scale": {"domain": [2, 5], "nice": false, "zero": false},
            "axis": {"title": "log[Apo2L(pM)]", "values": [2,2.301,2.477,2.602,2.699,2.778,2.845,2.903,2.954,3,3.301,3.477,3.602,3.699,3.778,3.845,3.903,3.954,4,4.301,4.477,4.602,4.699,4.778,4.845,4.903,4.954,5],
                     "labelExpr": "datum.value % 1 === 0 ? format(datum.value, 'd') : ''", "labelOverlap": false, "labelFlush": false, "labelFontSize": 18, "labelPadding": -2,
                     "tickSize": {"condition": {"test": "datum.value % 1 === 0", "value": 7}, "value": 4}, "tickWidth": 1.5, "domainWidth": 1.5, "titleFontSize": 17, "titlePadding": 5}},
      "color": {"field": "s", "type": "nominal", "scale": {"domain": ["Apo2L.0", "Apo2L.XL"], "range": ["#1c48e4", "#f03c1e"]}, "legend": null}
    },
    "layer": [
      {"transform": [{"filter": "datum.k === 'f'"}], "mark": {"type": "line", "strokeWidth": 1.5, "interpolate": "monotone"},
       "encoding": {"y": {"field": "y", "type": "quantitative", "scale": {"domain": [0, 1.4], "nice": false},
            "axis": {"title": "Cell Viability", "values": [0, 0.5, 1], "format": ".1f", "labelFontSize": 18, "labelPadding": 2, "tickSize": 5, "tickWidth": 1.5, "domainWidth": 1.5, "titleFontSize": 16, "titlePadding": 5, "titleY": 91}}}},
      {"transform": [{"filter": "datum.k === 'p'"}], "mark": {"type": "rule", "strokeWidth": 1.5},
       "encoding": {"y": {"field": "lo", "type": "quantitative", "title": "Cell Viability"}, "y2": {"field": "hi"}}},
      {"transform": [{"filter": "datum.k === 'p'"}], "mark": {"type": "tick", "orient": "horizontal", "size": 10, "thickness": 1.5},
       "encoding": {"y": {"field": "lo", "type": "quantitative", "title": "Cell Viability"}}},
      {"transform": [{"filter": "datum.k === 'p'"}], "mark": {"type": "tick", "orient": "horizontal", "size": 10, "thickness": 1.5},
       "encoding": {"y": {"field": "hi", "type": "quantitative", "title": "Cell Viability"}}},
      {"transform": [{"filter": "datum.k === 'p'"}], "mark": {"type": "point", "filled": true, "opacity": 1, "size": 80},
       "encoding": {"y": {"field": "y", "type": "quantitative", "title": "Cell Viability"},
                    "shape": {"field": "s", "type": "nominal", "scale": {"domain": ["Apo2L.0", "Apo2L.XL"], "range": ["circle", "square"]}, "legend": null}}}
    ]
   },
   {
    "width": 285, "height": 189,
    "title": {"text": "HUP-T3", "fontSize": 18, "fontWeight": "bold", "offset": -22, "baseline": "alphabetic", "anchor": "middle", "color": "black"},
    "data": {"name": "dr"},
    "transform": [{"filter": "datum.cl === 'HUP-T3'"}],
    "encoding": {
      "x": {"field": "x", "type": "quantitative", "scale": {"domain": [2, 5], "nice": false, "zero": false},
            "axis": {"title": "log[Apo2L(pM)]", "values": [2,2.301,2.477,2.602,2.699,2.778,2.845,2.903,2.954,3,3.301,3.477,3.602,3.699,3.778,3.845,3.903,3.954,4,4.301,4.477,4.602,4.699,4.778,4.845,4.903,4.954,5],
                     "labelExpr": "datum.value % 1 === 0 ? format(datum.value, 'd') : ''", "labelOverlap": false, "labelFlush": false, "labelFontSize": 18, "labelPadding": -2,
                     "tickSize": {"condition": {"test": "datum.value % 1 === 0", "value": 7}, "value": 4}, "tickWidth": 1.5, "domainWidth": 1.5, "titleFontSize": 17, "titlePadding": 5}},
      "color": {"field": "s", "type": "nominal", "scale": {"domain": ["Apo2L.0", "Apo2L.XL"], "range": ["#1c48e4", "#f03c1e"]}, "legend": null}
    },
    "layer": [
      {"transform": [{"filter": "datum.k === 'f'"}], "mark": {"type": "line", "strokeWidth": 1.5, "interpolate": "monotone"},
       "encoding": {"y": {"field": "y", "type": "quantitative", "scale": {"domain": [0, 1.4], "nice": false},
            "axis": {"title": "Cell Viability", "values": [0, 0.5, 1], "format": ".1f", "labelFontSize": 18, "labelPadding": 2, "tickSize": 5, "tickWidth": 1.5, "domainWidth": 1.5, "titleFontSize": 16, "titlePadding": 5, "titleY": 93}}}},
      {"transform": [{"filter": "datum.k === 'p'"}], "mark": {"type": "rule", "strokeWidth": 1.5},
       "encoding": {"y": {"field": "lo", "type": "quantitative", "title": "Cell Viability"}, "y2": {"field": "hi"}}},
      {"transform": [{"filter": "datum.k === 'p'"}], "mark": {"type": "tick", "orient": "horizontal", "size": 10, "thickness": 1.5},
       "encoding": {"y": {"field": "lo", "type": "quantitative", "title": "Cell Viability"}}},
      {"transform": [{"filter": "datum.k === 'p'"}], "mark": {"type": "tick", "orient": "horizontal", "size": 10, "thickness": 1.5},
       "encoding": {"y": {"field": "hi", "type": "quantitative", "title": "Cell Viability"}}},
      {"transform": [{"filter": "datum.k === 'p'"}], "mark": {"type": "point", "filled": true, "opacity": 1, "size": 80},
       "encoding": {"y": {"field": "y", "type": "quantitative", "title": "Cell Viability"},
                    "shape": {"field": "s", "type": "nominal", "scale": {"domain": ["Apo2L.0", "Apo2L.XL"], "range": ["circle", "square"]}, "legend": null}}}
    ]
   }
  ]
 }
]
}
